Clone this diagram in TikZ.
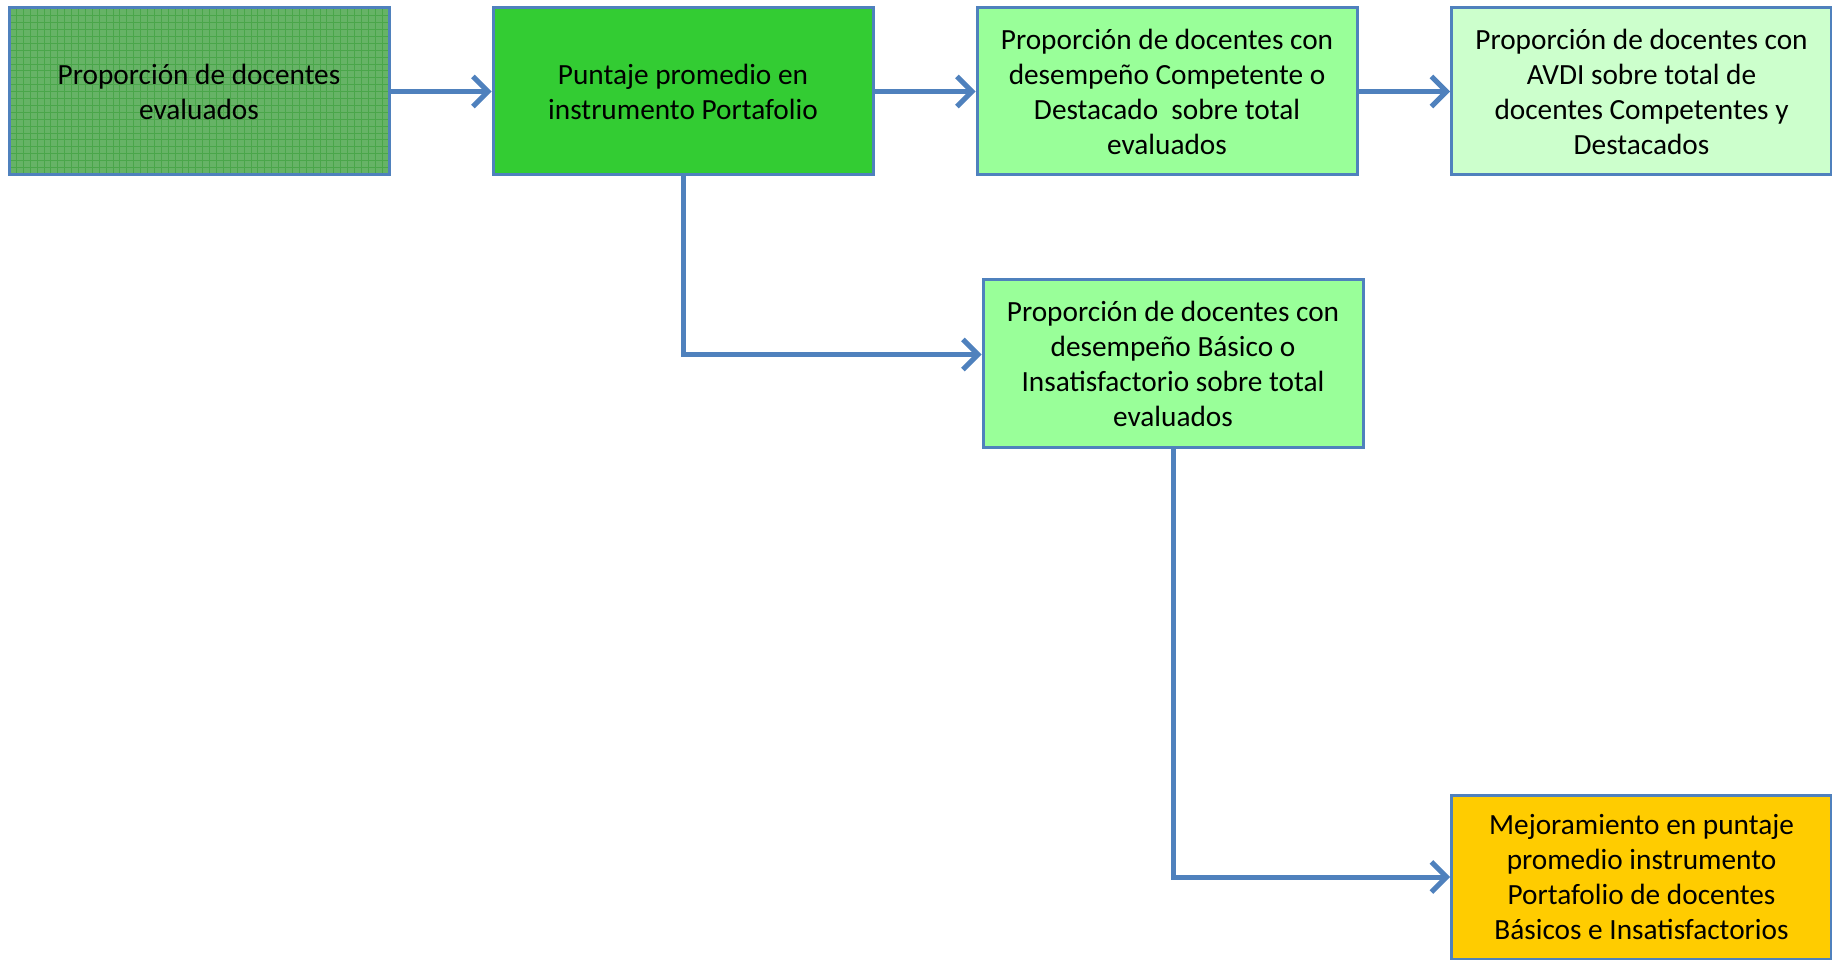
\documentclass[tikz,border=0pt]{standalone}
\usepackage{fontspec}
\setmainfont{Carlito}
\usetikzlibrary{arrows.meta}
\definecolor{edgeblue}{HTML}{4F81BD}
\definecolor{gridgreen}{HTML}{66B366}
\definecolor{gridline}{HTML}{4AA64A}
\definecolor{darkgreen}{HTML}{33CC33}
\definecolor{midgreen}{HTML}{99FF99}
\definecolor{palegreen}{HTML}{CCFFCC}
\definecolor{gold}{HTML}{FFCC00}
\tikzset{
  box/.style     = { draw=edgeblue, line width=3pt, minimum width=380pt, minimum height=167pt,
                     inner sep=0pt, align=center, font=\fontsize{29.3}{35}\selectfont },
  gridded/.style = { box, fill=gridgreen, path picture={
                       \draw[gridline, line width=0.6pt, step=6.9pt]
                         (path picture bounding box.south west) grid (path picture bounding box.north east);} },
  connect/.style = { draw=edgeblue, line width=5pt,
                     -{Straight Barb[length=15pt, width=30pt, line width=5pt]} }
}

\begin{document}
\begin{tikzpicture}[x=1pt, y=-1pt]
    \useasboundingbox (0,0) rectangle (1832,960);

    \node[gridded]                (b1) at (199,91.5)    {Proporción de docentes\\evaluados};
    \node[box, fill=darkgreen]    (b2) at (683,91.5)    {Puntaje promedio en\\instrumento Portafolio};
    \node[box, fill=midgreen]     (b3) at (1167,91.5)   {Proporción de docentes con\\desempeño Competente o\\Destacado\ \ sobre total\\evaluados};
    \node[box, fill=palegreen]    (b4) at (1641.5,91.5) {Proporción de docentes con\\AVDI sobre total de\\docentes Competentes y\\Destacados};
    \node[box, fill=midgreen]     (b5) at (1173,363.5)  {Proporción de docentes con\\desempeño Básico o\\Insatisfactorio sobre total\\evaluados};
    \node[box, fill=gold, minimum height=164pt] (b6) at (1641.5,877) {Mejoramiento en puntaje\\promedio instrumento\\Portafolio de docentes\\Básicos e Insatisfactorios};

    \draw[connect] (b1.east) -- (b2.west);
    \draw[connect] (b2.east) -- (b3.west);
    \draw[connect] (b3.east) -- (b4.west);
    \draw[connect] (b2.south) |- ([yshift=9pt]b5.west);
    \draw[connect] (b5.south) |- (b6.west);
\end{tikzpicture}
\end{document}
